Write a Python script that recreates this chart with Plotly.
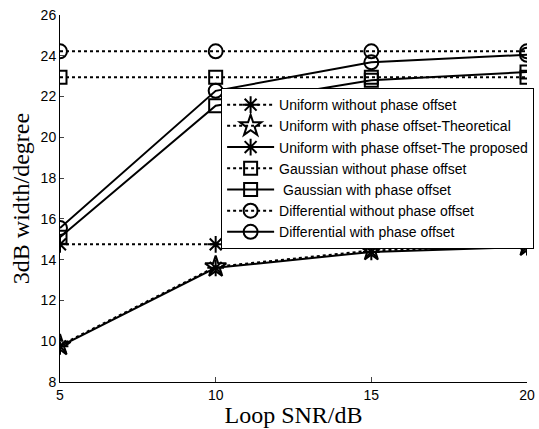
import plotly.graph_objects as go

snr = [5, 10, 15, 20]
uni_without = [14.75, 14.75, 14.75, 14.75]
uni_theory = [9.8, 13.65, 14.45, 14.67]
uni_proposed = [9.75, 13.6, 14.38, 14.62]
gau_without = [22.95, 22.95, 22.95, 22.95]
gau_with = [15.1, 21.55, 22.8, 23.2]
dif_without = [24.22, 24.22, 24.22, 24.22]
dif_with = [15.55, 22.28, 23.68, 24.05]

names = [
    "Uniform without phase offset",
    "Uniform with phase offset-Theoretical",
    "Uniform with phase offset-The proposed",
    "Gaussian without phase offset",
    " Gaussian with phase offset",
    "Differential without phase offset",
    "Differential with phase offset",
]
series = [uni_without, uni_theory, uni_proposed, gau_without, gau_with, dif_without, dif_with]
dashes = ["dot", "dot", "solid", "dot", "solid", "dot", "solid"]
symbols = ["asterisk-open", "star-open", "asterisk-open", "square-open", "square-open", "circle-open", "circle-open"]
sizes = [14, 16, 14, 13, 13, 14, 14]

fig = go.Figure()
for name, ys, dash, sym, sz in zip(names, series, dashes, symbols, sizes):
    fig.add_trace(go.Scatter(
        x=snr, y=ys, name=name, mode="lines+markers",
        line=dict(color="black", width=2, dash=dash),
        marker=dict(symbol=sym, size=sz, color="black", line=dict(color="black", width=2)),
    ))

fig.update_layout(
    width=539, height=429,
    margin=dict(l=60, r=12, t=15, b=47, autoexpand=False),
    paper_bgcolor="white", plot_bgcolor="white",
    font=dict(family="Liberation Sans, Arial", size=14, color="black"),
    legend=dict(
        x=0.345, y=0.801, xanchor="left", yanchor="top",
        bgcolor="white", bordercolor="black", borderwidth=1,
        font=dict(family="Liberation Sans, Arial", size=14, color="black"),
        itemwidth=47, tracegroupgap=0,
    ),
    xaxis=dict(
        range=[5, 20], tickvals=[5, 10, 15, 20], ticks="inside", ticklen=5,
        showline=True, linecolor="black", linewidth=1, showgrid=False, zeroline=False,
        title=dict(text="Loop SNR/dB", font=dict(family="Liberation Serif, Times New Roman", size=24), standoff=4),
        tickfont=dict(size=14),
    ),
    yaxis=dict(
        range=[8, 26], tickvals=[8, 10, 12, 14, 16, 18, 20, 22, 24, 26], ticks="inside", ticklen=4,
        showline=True, linecolor="black", linewidth=1, showgrid=False, zeroline=False,
        title=dict(text="3dB width/degree", font=dict(family="Liberation Serif, Times New Roman", size=24), standoff=4),
        tickfont=dict(size=14),
    ),
    showlegend=True,
)

fig.write_html("out.html")
